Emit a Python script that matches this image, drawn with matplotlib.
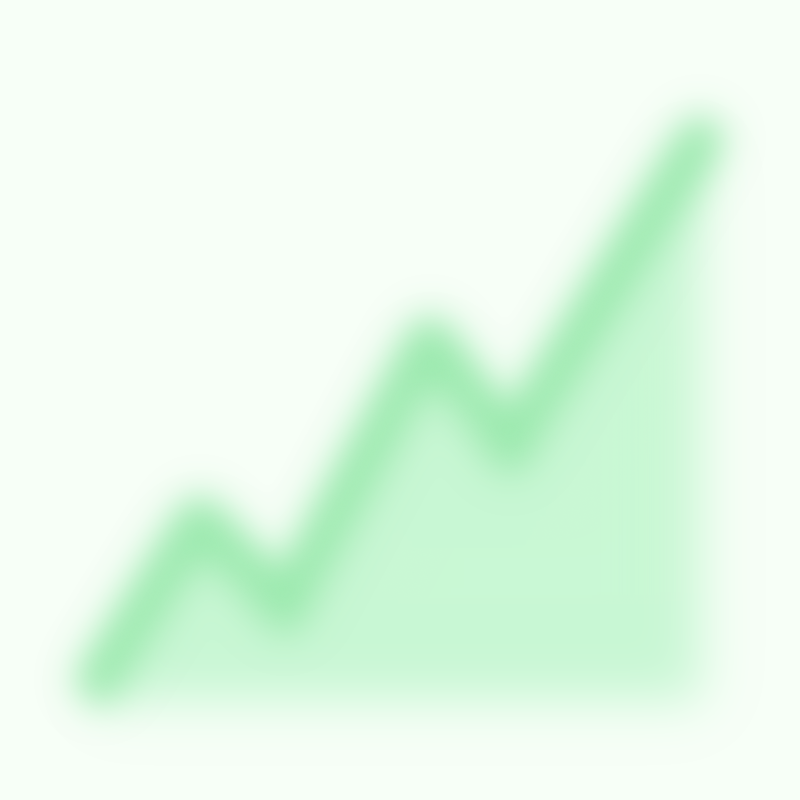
import numpy as np
import matplotlib
matplotlib.use("Agg")
import matplotlib.pyplot as plt

# data
x_vals = [0, 10, 18.5, 33, 41, 60]
y_vals = [0, 16, 7, 34, 23, 54]
baseline = -2

def gauss_kernel(sigma):
    r = int(3 * sigma)
    k = np.exp(-0.5 * (np.arange(-r, r + 1) / sigma) ** 2)
    return k / k.sum(), r

def blur_filter(sigma):
    def f(im, dpi):
        k, r = gauss_kernel(sigma)
        pad = r
        im = im.astype(float)
        a = im[..., 3:4]
        pm = np.concatenate([im[..., :3] * a, a], axis=2)
        pm = np.pad(pm, ((pad, pad), (pad, pad), (0, 0)))
        out = np.apply_along_axis(lambda m: np.convolve(m, k, mode="same"), 0, pm)
        out = np.apply_along_axis(lambda m: np.convolve(m, k, mode="same"), 1, out)
        alpha = out[..., 3:4]
        rgb = np.where(alpha > 1e-6, out[..., :3] / np.maximum(alpha, 1e-6), 0)
        res = np.concatenate([np.clip(rgb, 0, 1), np.clip(alpha, 0, 1)], axis=2)
        return res, -pad, -pad
    return f

bg = "#f7fff7"
fig = plt.figure(figsize=(8, 8), dpi=100)
fig.patch.set_facecolor(bg)
ax = fig.add_axes([0, 0, 1, 1])
ax.set_facecolor(bg)
ax.set_xlim(-10, 70)
ax.set_ylim(-12, 68)
ax.axis("off")

fill = ax.fill_between(x_vals, y_vals, baseline, color="#c9f8d5", lw=0)
fill.set_agg_filter(blur_filter(18))
line, = ax.plot(x_vals, y_vals, color="#9beaae", lw=34, solid_capstyle="round",
                solid_joinstyle="round")
line.set_agg_filter(blur_filter(18))

fig.savefig("out.png", dpi=100, facecolor=fig.get_facecolor())
